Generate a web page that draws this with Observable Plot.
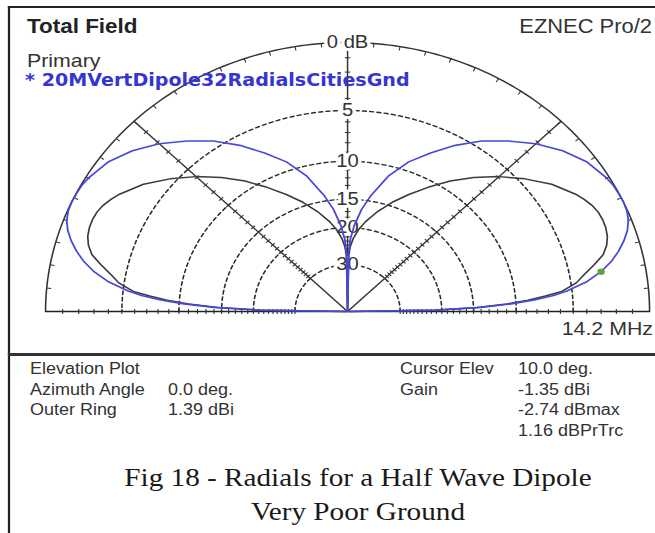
<!DOCTYPE html>
<html><head><meta charset="utf-8">
<script src="https://cdn.jsdelivr.net/npm/d3@7"></script>
<script src="https://cdn.jsdelivr.net/npm/@observablehq/plot@0.6"></script>
<style>
html,body{margin:0;padding:0;background:#fff;}
#root{position:relative;width:584px;height:533px;transform:scaleX(1.1227);transform-origin:0 0;overflow:hidden;background:#fff;}
.t{position:absolute;white-space:nowrap;line-height:1;font-family:"Liberation Sans",Arial,sans-serif;color:#333;}
.bar{position:absolute;background:#222;}
#chart{position:absolute;left:0;top:0;}
</style>
</head><body>
<div id="root">
  <div id="chart"></div>
  <div class="bar" style="left:7px;top:6px;width:577px;height:2px;"></div>
  <div class="bar" style="left:7px;top:6px;width:1.8px;height:527px;"></div>
  <div class="bar" style="left:7px;top:353px;width:577px;height:3px;background:#333;"></div>
  <div class="t" id="title" style="left:24px;top:16px;font-weight:bold;font-size:20px;color:#222;"></div>
  <div class="t" id="prog" style="right:3.3px;top:16.8px;font-size:19.5px;"></div>
  <div class="t" id="primLbl" style="left:24px;top:50.6px;font-size:19px;"></div>
  <div class="t" id="primName" style="left:22.3px;top:72.3px;font-family:'DejaVu Sans',Verdana,sans-serif;font-weight:bold;font-size:17px;color:#3535d0;"></div>
  <div class="t" id="freq" style="right:2.4px;top:318.9px;font-size:19px;"></div>
  <div id="info"></div>
  <div id="caption"></div>
</div>
<script>
// ---------- data ----------
const titleText = "Total Field";
const programText = "EZNEC Pro/2";
const primaryLabel = "Primary";
const primaryName = "* 20MVertDipole32RadialsCitiesGnd";
const frequencyText = "14.2 MHz";

// elevation angles (deg) and gains relative to max (dB)
const elevation   = [0, 1, 2, 3, 4, 5, 6, 8, 10, 12, 14, 16, 18, 20, 22, 24, 26, 28, 30, 35, 40, 45, 50, 55, 60, 65, 70, 75, 80, 83, 86, 88, 89, 90];
const primaryGain = [-99, -21, -14, -10.5, -8.2, -6.5, -5.4, -3.8, -2.74, -1.95, -1.35, -0.85, -0.45, -0.18, -0.04, 0, -0.02, -0.05, -0.15, -0.55, -1.25, -2.15, -3.25, -4.4, -5.8, -7.4, -9.0, -11.2, -14.3, -16.5, -19.5, -22.5, -26, -99];
const compareGain = [-99, -21.5, -14.5, -11, -8.8, -7.2, -5.8, -4.6, -3.9, -3.1, -2.35, -1.95, -1.72, -1.62, -1.6, -1.65, -1.8, -2.05, -2.35, -3.3, -4.55, -5.9, -7.4, -9.0, -10.8, -12.6, -14.4, -16.4, -18.6, -20.2, -22.3, -24.5, -27, -99];

const ringLevels = [0, -5, -10, -15, -20, -30];
const ringLabels = ["0 dB", "5", "10", "15", "20", "30"];
const spokeAngles = [45, 90, 135];
const cursorElev = 10;
const cursorGain = -2.74;

const infoLeftLabels  = ["Elevation Plot", "Azimuth Angle", "Outer Ring"];
const infoLeftValues  = ["", "0.0 deg.", "1.39 dBi"];
const infoRightLabels = ["Cursor Elev", "Gain", "", ""];
const infoRightValues = ["10.0 deg.", "-1.35 dBi", "-2.74 dBmax", "1.16 dBPrTrc"];
const captionLines = ["Fig 18 - Radials for a Half Wave Dipole", "Very Poor Ground"];

// ---------- geometry helpers ----------
const S = 1.1227;            // horizontal stretch of the original image
const CX = 347 / S, CY = 311, R = 269;
const rad = Math.PI / 180;
const arrl = db => Math.pow(0.89, -db / 2);   // ARRL log scale
const px = 1 / R;

// rings
const ringPts = [];
ringLevels.forEach(lv => {
  for (let a = 0; a <= 180; a += 1) ringPts.push({lv, a, r: arrl(lv)});
});

// traces
function tracePts(gains) {
  const right = elevation.map((e, i) => ({e, g: gains[i]}));
  const left = elevation.map((e, i) => ({e: 180 - e, g: gains[i]})).reverse();
  return [...right, ...left.slice(1)].map(d => ({e: d.e, r: arrl(d.g)}));
}
const primPts = tracePts(primaryGain);
const compPts = tracePts(compareGain);

// ticks along spokes and baseline (every dB)
const tickDb = d3.range(-1, -31, -1);
const tickAngles = [0, 45, 90, 135, 180];
const radialTicks = [];
tickAngles.forEach(a => tickDb.forEach(db => {
  const r = arrl(db), c = Math.cos(a * rad), s = Math.sin(a * rad);
  radialTicks.push({x1: r * c - 2.5 * px * s, y1: r * s + 2.5 * px * c, x2: r * c + 2.5 * px * s, y2: r * s - 2.5 * px * c});
}));
// outer ring ticks every 5 deg, inward
const ringTicks = d3.range(5, 180, 5).map(a => {
  const c = Math.cos(a * rad), s = Math.sin(a * rad);
  return {x1: c, y1: s, x2: c * (1 - 4 * px), y2: s * (1 - 4 * px)};
});

const X = d => d.r * Math.cos(d.e * rad);
const Y = d => d.r * Math.sin(d.e * rad);

const chart = Plot.plot({
  width: 584,
  height: 345,
  margin: 0,
  style: {background: "transparent", overflow: "visible"},
  x: {domain: [-1, 1], range: [CX - R, CX + R], axis: null},
  y: {domain: [0, 1], range: [CY, CY - R], axis: null},
  marks: [
    Plot.line(ringPts.filter(d => d.lv !== 0), {x: d => d.r * Math.cos(d.a * rad), y: d => d.r * Math.sin(d.a * rad), z: "lv", stroke: "#2a2a2a", strokeWidth: 1.4, strokeDasharray: "3.5,3"}),
    Plot.line(ringPts.filter(d => d.lv === 0), {x: d => d.r * Math.cos(d.a * rad), y: d => d.r * Math.sin(d.a * rad), stroke: "#333", strokeWidth: 1.4}),
    Plot.link(spokeAngles, {x1: () => 0, y1: () => 0, x2: a => Math.cos(a * rad), y2: a => Math.sin(a * rad), stroke: "#333", strokeWidth: 1.3}),
    Plot.link([[-1, 1]], {x1: d => d[0], y1: () => 0, x2: d => d[1], y2: () => 0, stroke: "#222", strokeWidth: 1.6}),
    Plot.link(radialTicks, {x1: "x1", y1: "y1", x2: "x2", y2: "y2", stroke: "#333", strokeWidth: 1}),
    Plot.link(ringTicks, {x1: "x1", y1: "y1", x2: "x2", y2: "y2", stroke: "#333", strokeWidth: 1}),
    Plot.text(ringLevels.map((lv, i) => ({lv, label: ringLabels[i]})), {
      x: () => 0, y: d => arrl(d.lv), text: "label",
      fontSize: 18, fontFamily: "Liberation Sans, Arial, sans-serif",
      fill: "#333", stroke: "white", strokeWidth: 6
    }),
    Plot.line(compPts, {x: X, y: Y, stroke: "#3a3a3a", strokeWidth: 1.5}),
    Plot.line(primPts, {x: X, y: Y, stroke: "#4848d8", strokeWidth: 1.6}),
    Plot.dot([{e: cursorElev, r: arrl(cursorGain)}], {x: X, y: Y, r: 3.3, fill: "#5fa33c"})
  ]
});
document.getElementById("chart").appendChild(chart);

document.getElementById("title").textContent = titleText;
document.getElementById("prog").textContent = programText;
document.getElementById("primLbl").textContent = primaryLabel;
document.getElementById("primName").textContent = primaryName;
document.getElementById("freq").textContent = frequencyText;

// info panel
const info = document.getElementById("info");
const rowTops = [360.5, 381.5, 401.5, 422.5];
function addText(txt, left, top, extra) {
  if (!txt) return;
  const el = document.createElement("div");
  el.className = "t";
  el.style.cssText = `left:${left}px;top:${top}px;font-size:16px;color:#333;` + (extra || "");
  el.textContent = txt;
  info.appendChild(el);
}
infoLeftLabels.forEach((t, i) => addText(t, 30 / S, rowTops[i]));
infoLeftValues.forEach((t, i) => addText(t, 168 / S, rowTops[i]));
infoRightLabels.forEach((t, i) => addText(t, 400 / S, rowTops[i]));
infoRightValues.forEach((t, i) => addText(t, 518 / S, rowTops[i]));

// caption
const cap = document.getElementById("caption");
const capTops = [465, 499];
captionLines.forEach((t, i) => {
  const el = document.createElement("div");
  el.className = "t";
  el.style.cssText = `left:0;width:${716 / S}px;text-align:center;top:${capTops[i]}px;font-family:'Liberation Serif','Times New Roman',serif;font-size:26px;color:#1a1a1a;`;
  el.textContent = t;
  cap.appendChild(el);
});
</script>
</body></html>
